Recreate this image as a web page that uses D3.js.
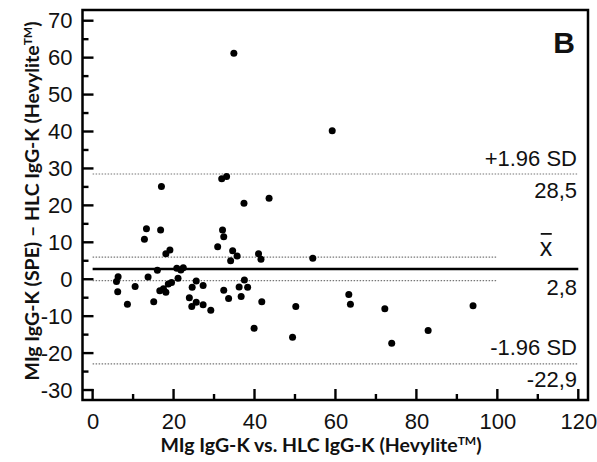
<!DOCTYPE html>
<html>
<head>
<meta charset="utf-8">
<script src="https://cdn.jsdelivr.net/npm/d3@7"></script>
<style>
  body { margin: 0; background: white; }
</style>
</head>
<body>
<div id="viz-container"></div>
<script>
let w = 597;
let h = 462;

// mean of the two methods (x) and their difference (y), one entry per patient
let meanVals = [6.3, 5.9, 6.2, 8.6, 10.5, 12.8, 13.3, 13.7, 15.1, 16.0,
  16.6, 16.8, 17.0, 17.5, 18.1, 18.1, 18.7, 19.1, 19.5, 20.8,
  21.1, 21.8, 22.4, 23.9, 24.5, 24.6, 25.6, 25.6, 27.3, 27.3,
  29.2, 30.9, 31.9, 33.1, 32.1, 32.4, 32.4, 33.6, 34.1, 34.6,
  35.7, 36.2, 36.7, 37.4, 37.5, 38.3, 39.9, 41.0, 41.6, 41.8,
  43.6, 49.4, 50.2, 54.4, 34.9, 59.2, 63.3, 63.7, 72.2, 73.9,
  82.9, 94.0];
let diffVals = [0.7, -0.6, -3.4, -6.8, -2.0, 10.8, 13.7, 0.6, -6.1, 2.4,
  -3.1, 13.3, 25.1, -2.6, -3.5, 6.9, -1.3, 7.9, -0.9, 3.0,
  0.3, 2.5, 3.1, -5.0, -7.4, -2.2, -0.5, -6.2, -1.7, -6.9,
  -8.4, 8.8, 27.2, 27.8, 13.3, 11.5, -3.0, -5.2, 5.0, 7.7,
  6.3, -2.1, -4.7, 20.6, -0.2, -2.2, -13.3, 6.9, 5.4, -6.1,
  21.9, -15.7, -7.4, 5.7, 61.2, 40.2, -4.1, -6.8, -8.0, -17.3,
  -13.9, -7.2];

// limits of agreement
let meanDiff = 2.8;
let upperSD = 28.5;
let lowerSD = -22.9;
let ciMean = [-0.4, 6.0];

let xTicks = [0, 20, 40, 60, 80, 100, 120];
let xMinor = [10, 30, 50, 70, 90, 110];
let yTicks = [-30, -20, -10, 0, 10, 20, 30, 40, 50, 60, 70];
let yMinor = [-25, -15, -5, 5, 15, 25, 35, 45, 55, 65];

let plotL = 82.5, plotR = 588, plotT = 10, plotB = 400;

let viz = d3.select("#viz-container")
.append("svg")
   .attr("width", w)
   .attr("height", h)
   .style("background-color", "white")
;

let x = d3.scaleLinear().domain([-2.5, 122.4]).range([plotL, plotR]);
let y = d3.scaleLinear().domain([-32.7, 72.9]).range([plotB, plotT]);

let tickFont = "'Liberation Sans', Arial, sans-serif";
let titleFont = "Lato, 'Open Sans', sans-serif";

// axis labels from d3 axes, tick marks drawn below (pointing inwards)
viz.append("g")
  .attr("transform", "translate(0," + plotB + ")")
  .call(d3.axisBottom(x).tickValues(xTicks).tickSize(0).tickPadding(13).tickFormat(d => String(d)))
;
viz.append("g")
  .attr("transform", "translate(" + plotL + ",0)")
  .call(d3.axisLeft(y).tickValues(yTicks).tickSize(0).tickPadding(10).tickFormat(d => String(d)))
;
viz.selectAll(".domain").remove();
viz.selectAll(".tick text")
  .attr("font-family", tickFont)
  .attr("font-size", 22)
  .attr("fill", "#111")
;

function xTickMarks(vals, len){
  viz.append("g").selectAll("line").data(vals).enter()
  .append("line")
    .attr("x1", d => x(d))
    .attr("x2", d => x(d))
    .attr("y1", plotB)
    .attr("y2", plotB - len)
    .attr("stroke", "black")
    .attr("stroke-width", 2.4)
  ;
}
function yTickMarks(vals, len){
  viz.append("g").selectAll("line").data(vals).enter()
  .append("line")
    .attr("x1", plotL)
    .attr("x2", plotL + len)
    .attr("y1", d => y(d))
    .attr("y2", d => y(d))
    .attr("stroke", "black")
    .attr("stroke-width", 2.4)
  ;
}
xTickMarks(xTicks, 11);
xTickMarks(xMinor, 6);
yTickMarks(yTicks, 11);
yTickMarks(yMinor, 6);

// frame
viz.append("rect")
  .attr("x", plotL)
  .attr("y", plotT)
  .attr("width", plotR - plotL)
  .attr("height", plotB - plotT)
  .attr("fill", "none")
  .attr("stroke", "black")
  .attr("stroke-width", 2.5)
;

// reference lines
function refLine(val, x1, x2, solid){
  viz.append("line")
    .attr("x1", x(x1))
    .attr("x2", x(x2))
    .attr("y1", y(val))
    .attr("y2", y(val))
    .attr("stroke", solid ? "black" : "#777")
    .attr("stroke-width", solid ? 2.5 : 1.2)
    .attr("stroke-dasharray", solid ? null : "1.5,1.5")
  ;
}
refLine(upperSD, 0, 120, false);
refLine(lowerSD, 0, 120, false);
refLine(ciMean[0], 0, 100, false);
refLine(ciMean[1], 0, 100, false);
refLine(meanDiff, 0, 120, true);

// points
viz.selectAll(".dot").data(meanVals).enter()
.append("circle")
  .attr("class", "dot")
  .attr("cx", d => x(d))
  .attr("cy", (d, i) => y(diffVals[i]))
  .attr("r", 3.5)
  .attr("fill", "black")
;

// line labels
function label(txt, yPos){
  return viz.append("text")
    .attr("x", 577)
    .attr("y", yPos)
    .attr("text-anchor", "end")
    .attr("font-family", tickFont)
    .attr("font-size", 22)
    .attr("fill", "#111")
    .text(txt)
  ;
}
label("+1.96 SD", y(upperSD) - 8);
label(String(upperSD).replace(".", ","), y(upperSD) + 24);
label(String(meanDiff).replace(".", ","), y(meanDiff) + 26);
label("-1.96 SD", y(lowerSD) - 9);
label(String(lowerSD).replace(".", ","), y(lowerSD) + 23);

let xbar = viz.append("text")
  .attr("x", 546)
  .attr("y", y(meanDiff) - 13)
  .attr("text-anchor", "middle")
  .attr("font-family", tickFont)
  .attr("font-size", 25)
  .attr("fill", "#111")
  .text("x")
;
let bb = xbar.node().getBBox();
viz.append("line")
  .attr("x1", bb.x + 1)
  .attr("x2", bb.x + bb.width - 1)
  .attr("y1", y(meanDiff) - 35)
  .attr("y2", y(meanDiff) - 35)
  .attr("stroke", "#111")
  .attr("stroke-width", 1.8)
;

// panel letter
viz.append("text")
  .attr("x", 575)
  .attr("y", 53)
  .attr("text-anchor", "end")
  .attr("font-family", tickFont)
  .attr("font-weight", "bold")
  .attr("font-size", 30)
  .attr("fill", "#111")
  .text("B")
;

// axis titles
let xTitle = viz.append("text")
  .attr("x", 321)
  .attr("y", 452)
  .attr("text-anchor", "middle")
  .attr("font-family", titleFont)
  .attr("font-weight", "bold")
  .attr("font-size", 19.5)
  .attr("fill", "#111")
;
xTitle.append("tspan").text("MIg IgG-K vs. HLC IgG-K (Hevylite");
xTitle.append("tspan").attr("font-size", 12).attr("dy", -7).text("TM");
xTitle.append("tspan").attr("dy", 7).text(")");

let yTitle = viz.append("text")
  .attr("transform", "translate(39,201) rotate(-90)")
  .attr("text-anchor", "middle")
  .attr("font-family", titleFont)
  .attr("font-weight", "bold")
  .attr("font-size", 19.5)
  .attr("fill", "#111")
;
yTitle.append("tspan").text("MIg IgG-K (SPE) \u2013 HLC IgG-K (Hevylite");
yTitle.append("tspan").attr("font-size", 12).attr("dy", -7).text("TM");
yTitle.append("tspan").attr("dy", 7).text(")");
</script>
</body>
</html>
